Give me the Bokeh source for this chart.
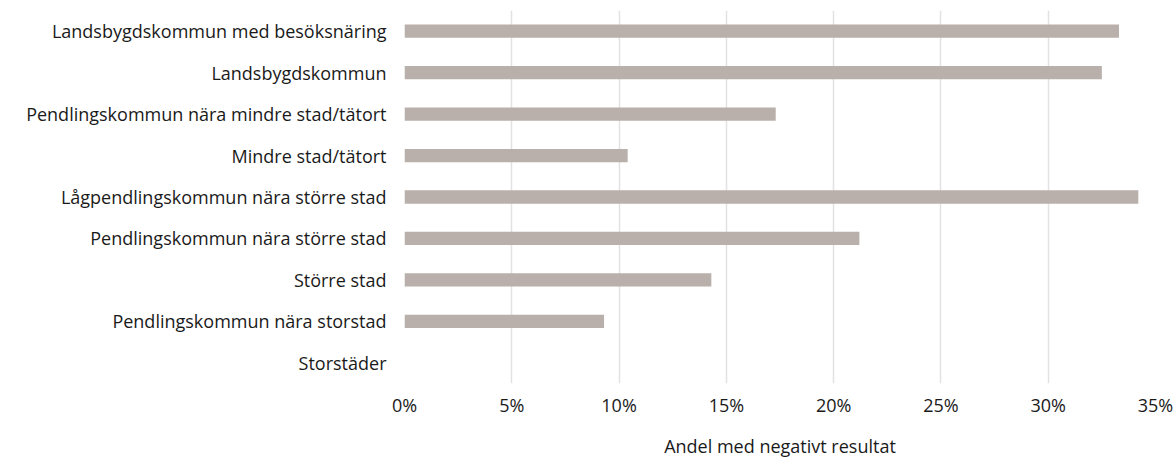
from bokeh.plotting import figure
from bokeh.models import ColumnDataSource, FactorRange, FixedTicker, CustomJSTickFormatter
from bokeh.embed import file_html
from bokeh.resources import INLINE

categories = [
    "Landsbygdskommun med besöksnäring",
    "Landsbygdskommun",
    "Pendlingskommun nära mindre stad/tätort",
    "Mindre stad/tätort",
    "Lågpendlingskommun nära större stad",
    "Pendlingskommun nära större stad",
    "Större stad",
    "Pendlingskommun nära storstad",
    "Storstäder",
]
values = [33.3, 32.5, 17.3, 10.4, 34.2, 21.2, 14.3, 9.3, 0.0]
x_ticks = [0, 5, 10, 15, 20, 25, 30, 35]
x_label = "Andel med negativt resultat"

FONT = "Open Sans"
TEXT = "#1a1a1a"

src = ColumnDataSource(dict(cat=categories, val=values))

p = figure(
    width=1173, height=460,
    y_range=FactorRange(*reversed(categories)),
    x_range=(0, 35),
    output_backend="svg", toolbar_location=None,
    min_border_left=404, min_border_right=18,
    min_border_top=10, min_border_bottom=70,
)
p.hbar(y="cat", right="val", left=0, height=0.32, source=src,
       fill_color="#b9b0ab", line_color=None)

p.outline_line_color = None
p.ygrid.grid_line_color = None
p.xgrid.grid_line_color = "#e2e2e2"
p.xgrid.grid_line_width = 1.5
p.xgrid.ticker = FixedTicker(ticks=x_ticks)

p.xaxis.ticker = FixedTicker(ticks=x_ticks)
p.xaxis.formatter = CustomJSTickFormatter(code="return tick + '%';")
p.xaxis.axis_line_color = None
p.xaxis.major_tick_line_color = None
p.xaxis.minor_tick_line_color = None
p.xaxis.major_label_text_font = FONT
p.xaxis.major_label_text_font_size = "18px"
p.xaxis.major_label_text_color = TEXT
p.xaxis.major_label_standoff = 3
p.xaxis.axis_label = x_label
p.xaxis.axis_label_text_font = FONT
p.xaxis.axis_label_text_font_size = "18px"
p.xaxis.axis_label_text_font_style = "normal"
p.xaxis.axis_label_text_color = TEXT
p.xaxis.axis_label_standoff = 14

p.yaxis.axis_line_color = None
p.yaxis.major_tick_line_color = None
p.yaxis.minor_tick_line_color = None
p.yaxis.major_label_text_font = FONT
p.yaxis.major_label_text_font_size = "18px"
p.yaxis.major_label_text_color = TEXT
p.yaxis.major_label_standoff = 12

open("out.html", "w").write(file_html(p, INLINE))
